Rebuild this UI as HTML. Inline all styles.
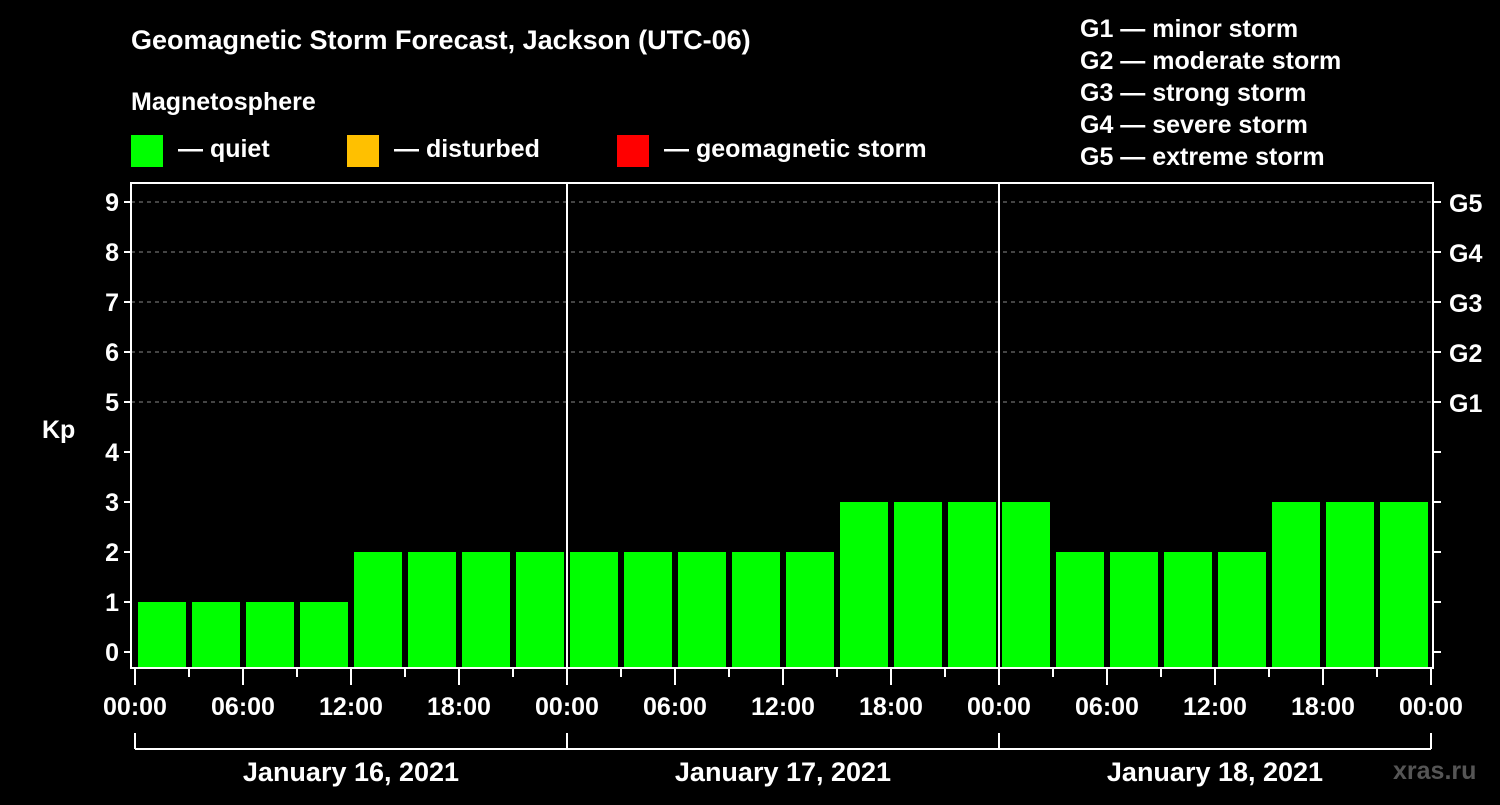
<!DOCTYPE html>
<html><head><meta charset="utf-8"><style>
body{margin:0;background:#000;width:1500px;height:800px;overflow:hidden}
svg text{font-family:"Liberation Sans",sans-serif;font-weight:bold;fill:#fff}
</style></head><body>
<svg id="c" width="1500" height="800">
<text x="131" y="49" font-size="27">Geomagnetic Storm Forecast, Jackson (UTC-06)</text>
<text x="131" y="110" font-size="25">Magnetosphere</text>
<g><rect x="131" y="135" width="32" height="32" fill="#00ff00"/><text x="178" y="157" font-size="25">— quiet</text></g>
<g><rect x="347" y="135" width="32" height="32" fill="#ffc000"/><text x="394" y="157" font-size="25">— disturbed</text></g>
<g><rect x="617" y="135" width="32" height="32" fill="#ff0000"/><text x="664" y="157" font-size="25">— geomagnetic storm</text></g>
<g font-size="25">
<text x="1080" y="37">G1 — minor storm</text><text x="1080" y="69">G2 — moderate storm</text><text x="1080" y="101">G3 — strong storm</text><text x="1080" y="133">G4 — severe storm</text><text x="1080" y="165">G5 — extreme storm</text></g>
<text x="42" y="438" font-size="25">Kp</text>
<text x="1393" y="779" font-size="25" fill="#555" style="fill:#555">xras.ru</text>
<g id="g"></g>
</svg>
<script>
const values=[1,1,1,1,2,2,2,2,2,2,2,2,2,3,3,3,3,2,2,2,2,3,3,3];
const yTicks=[0,1,2,3,4,5,6,7,8,9];
const gLabels=["G1","G2","G3","G4","G5"];
const hourLabels=["00:00","06:00","12:00","18:00"];
const days=["January 16, 2021","January 17, 2021","January 18, 2021"];
const X0=135,SLOT=54,Y0=652,UNIT=50,L=131,R=1433,T=183,B=668;
const y=v=>Y0-v*UNIT, x=i=>X0+i*SLOT;
const g=document.getElementById('g');const NS="http://www.w3.org/2000/svg";
function mk(t,a,p){const e=document.createElementNS(NS,t);for(const k in a)e.setAttribute(k,a[k]);(p||g).appendChild(e);return e;}
yTicks.forEach(v=>{if(v>=5){const l=mk('line',{x1:L,x2:R,y1:y(v),y2:y(v),stroke:'#888','stroke-dasharray':'4,4'});

}
mk('line',{x1:L-7,x2:L,y1:y(v),y2:y(v),stroke:'#fff','stroke-width':2});
mk('line',{x1:R,x2:R+8,y1:y(v),y2:y(v),stroke:'#fff','stroke-width':2});
const t=mk('text',{x:L-12,y:y(v)+9,'font-size':25,'text-anchor':'end'});t.textContent=v;

});
gLabels.forEach((s,i)=>{const t=mk('text',{x:1449,y:y(5+i)+10,'font-size':25});t.textContent=s;

});
values.forEach((v,i)=>{const c=v>=5?'#ff0000':v>=4?'#ffc000':'#00ff00';
const r=mk('rect',{x:x(i)+3,y:y(v),width:48,height:B-y(v),fill:c});

});
mk('rect',{x:L,y:T,width:R-L,height:B-T,fill:'none',stroke:'#fff','stroke-width':2});
[1,2].forEach(d=>mk('line',{x1:x(d*8),x2:x(d*8),y1:T,y2:B,stroke:'#fff','stroke-width':2}));
for(let i=0;i<=24;i++){mk('line',{x1:x(i),x2:x(i),y1:B,y2:B+(i%2?9:17),stroke:'#fff','stroke-width':2});
if(i%2==0){const t=mk('text',{x:x(i),y:715,'font-size':25,'text-anchor':'middle'});t.textContent=hourLabels[(i/2)%4];

}}
mk('line',{x1:x(0),x2:x(24),y1:749,y2:749,stroke:'#fff','stroke-width':2});
for(let d=0;d<=3;d++)mk('line',{x1:x(d*8),x2:x(d*8),y1:733,y2:749,stroke:'#fff','stroke-width':2});
days.forEach((s,d)=>{const t=mk('text',{x:x(d*8+4),y:781,'font-size':27,'text-anchor':'middle'});t.textContent=s;

});
</script>
</body></html>
